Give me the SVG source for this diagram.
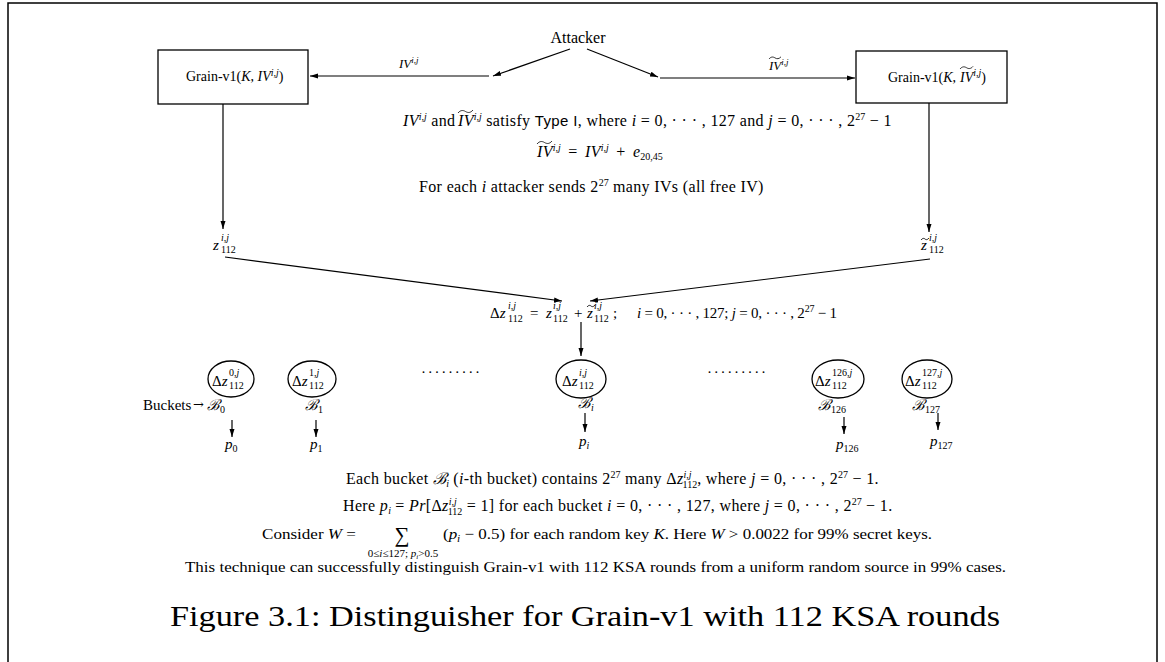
<svg xmlns="http://www.w3.org/2000/svg" width="1165" height="662" viewBox="0 0 1165 662">
<defs>
<style>
.t{font-family:"Liberation Serif","DejaVu Serif",serif;font-size:15px;fill:#000}
.b{font-size:16px;letter-spacing:0.35px}
.i{font-style:italic}
.sc{font-size:10px;letter-spacing:0}
.ss{font-size:9px}
.ln{stroke:#000;stroke-width:1.2;fill:none}
.tl{stroke:#000;stroke-width:0.8;fill:none}
.box{fill:#fff;stroke:#000;stroke-width:1.3}
.ell{fill:none;stroke:#000;stroke-width:1.3}
</style>
<marker id="ah" markerUnits="userSpaceOnUse" markerWidth="8" markerHeight="6" refX="8" refY="3" orient="auto">
<path d="M0,0.5 L8,3 L0,5.5 z" fill="#000"/>
</marker>
</defs>
<rect width="1165" height="662" fill="#fff"/>
<path d="M8,662 V3 H1157 V662" fill="none" stroke="#000" stroke-width="1.5"/>

<g id="connectors">
<path class="ln" d="M570,49 L493,76" marker-end="url(#ah)"/>
<path class="ln" d="M489,76 L310,76" marker-end="url(#ah)"/>
<path class="ln" d="M587,49 L658,77" marker-end="url(#ah)"/>
<path class="ln" d="M660,78 L855,78" marker-end="url(#ah)"/>
<path class="ln" d="M223,104 L223,229" marker-end="url(#ah)"/>
<path class="ln" d="M929,103 L929,232" marker-end="url(#ah)"/>
<path class="ln" d="M225,257 L562,301" marker-end="url(#ah)"/>
<path class="ln" d="M930,259 L590,301" marker-end="url(#ah)"/>
<path class="ln" d="M581,322 L581,356" marker-end="url(#ah)"/>
<path class="ln" d="M232,420 L232,437" marker-end="url(#ah)"/>
<path class="ln" d="M316,420 L316,437" marker-end="url(#ah)"/>
<path class="ln" d="M585,413 L585,432" marker-end="url(#ah)"/>
<path class="ln" d="M844,417 L844,434" marker-end="url(#ah)"/>
<path class="ln" d="M938,413 L938,430" marker-end="url(#ah)"/>
<text class="t i" x="399" y="68" style="font-size:13px">IV<tspan class="ss" dy="-5">i,j</tspan></text>
<text class="t i" x="769" y="70" style="font-size:13px">IV<tspan class="ss" dy="-5">i,j</tspan></text>
<path class="tl" d="M769,59 c2,-2.4 4,-2.4 6,-1.1 s4,1.1 6,-1.1"/>
</g>

<g id="attacker">
<text class="t" x="578" y="43" text-anchor="middle" style="font-size:16px">Attacker</text>
</g>

<g id="grain-left">
<rect class="box" x="158" y="50" width="150" height="54"/>
<text class="t" x="186" y="81" style="font-size:14px">Grain-v1(<tspan class="i">K</tspan>, <tspan class="i">IV</tspan><tspan class="i" dy="-5" style="font-size:10px">i,j</tspan><tspan dy="5">)</tspan></text>
</g>

<g id="grain-right">
<rect class="box" x="856" y="51" width="151" height="52"/>
<text class="t" x="888" y="82" style="font-size:14px">Grain-v1(<tspan class="i">K</tspan>, <tspan class="i" x="960">IV</tspan><tspan class="i" dy="-6" style="font-size:10px">i,j</tspan><tspan dy="6">)</tspan></text>
<path class="tl" d="M960,69 c2.2,-2.6 4.4,-2.6 6.5,-1.3 s4.3,1.3 6.5,-1.3"/>
</g>

<g id="conditions">
<text class="t b" x="403" y="126"><tspan class="i">IV</tspan><tspan class="sc i" dy="-6">i,j</tspan><tspan dy="6"> and </tspan><tspan class="i" x="458">IV</tspan><tspan class="sc i" dy="-6">i,j</tspan><tspan dy="6"> satisfy </tspan><tspan font-family="Liberation Sans" style="font-size:15px">Type I</tspan>, where <tspan class="i">i</tspan> = 0, · · · , 127 and <tspan class="i">j</tspan> = 0, · · · , 2<tspan class="sc" dy="-6">27</tspan><tspan dy="6"> − 1</tspan></text>
<path class="tl" d="M458,113 c2.5,-3 5,-3 7.5,-1.5 s5,1.5 7.5,-1.5"/>
<text class="t b" x="537" y="157"><tspan class="i">IV</tspan><tspan class="sc i" dy="-6">i,j</tspan><tspan dy="6" dx="3"> = </tspan><tspan class="i" dx="3">IV</tspan><tspan class="sc i" dy="-6">i,j</tspan><tspan dy="6" dx="3"> + </tspan><tspan class="i" dx="3">e</tspan><tspan class="sc" dy="3">20,45</tspan></text>
<path class="tl" d="M537,144 c2.5,-3 5,-3 7.5,-1.5 s5,1.5 7.5,-1.5"/>
<text class="t b" x="419" y="192">For each <tspan class="i">i</tspan> attacker sends 2<tspan class="sc" dy="-6">27</tspan><tspan dy="6"> many IVs (all free IV)</tspan></text>
</g>

<g id="z-left">
<text class="t i" x="213" y="250">z</text>
<text class="t sc i" x="221" y="241">i,j</text>
<text class="t sc" x="221" y="253">112</text>
</g>

<g id="z-right">
<text class="t i" x="921" y="250">z</text>
<path class="tl" d="M921,240 c1.5,-2 3,-2 4,-1 s2.5,1 4,-1"/>
<text class="t sc i" x="929" y="241">i,j</text>
<text class="t sc" x="929" y="253">112</text>
</g>

<g id="delta-eq">
<text class="t" x="490" y="318">Δ<tspan class="i">z</tspan></text>
<text class="t sc i" x="508" y="309">i,j</text>
<text class="t sc" x="508" y="322">112</text>
<text class="t" x="530" y="318">=</text>
<text class="t i" x="546" y="318">z</text>
<text class="t sc i" x="553" y="309">i,j</text>
<text class="t sc" x="553" y="322">112</text>
<text class="t" x="574" y="318">+</text>
<text class="t i" x="587" y="318">z</text>
<path class="tl" d="M587,307 c1.5,-2 3,-2 4,-1 s2.5,1 4,-1"/>
<text class="t sc i" x="594" y="309">i,j</text>
<text class="t sc" x="594" y="322">112</text>
<text class="t" x="613" y="318">;</text>
<text class="t" x="637" y="318" textLength="200" lengthAdjust="spacing"><tspan class="i">i</tspan> = 0, · · · , 127; <tspan class="i">j</tspan> = 0, · · · , 2<tspan class="sc" dy="-6">27</tspan><tspan dy="6"> − 1</tspan></text>
</g>

<g id="bucket-0">
<ellipse class="ell" cx="231" cy="379" rx="23" ry="18"/>
<text class="t" x="212" y="386">Δ<tspan class="i">z</tspan></text>
<text class="t sc" x="229" y="376">0<tspan class="i">,j</tspan></text>
<text class="t sc" x="229" y="389">112</text>
<text class="t" x="143" y="410">Buckets</text>
<text class="t" x="193" y="409" style="font-size:13px;font-family:'DejaVu Serif',serif">→</text>
<text class="t i" x="207" y="410">ℬ<tspan class="sc" font-style="normal" dy="3">0</tspan></text>
<text class="t i" x="225" y="449">p<tspan class="sc" font-style="normal" dy="3">0</tspan></text>
</g>

<g id="bucket-1">
<ellipse class="ell" cx="312" cy="379" rx="24" ry="18"/>
<text class="t" x="292" y="386">Δ<tspan class="i">z</tspan></text>
<text class="t sc" x="309" y="376">1<tspan class="i">,j</tspan></text>
<text class="t sc" x="309" y="389">112</text>
<text class="t i" x="305" y="410">ℬ<tspan class="sc" font-style="normal" dy="3">1</tspan></text>
<text class="t i" x="310" y="449">p<tspan class="sc" font-style="normal" dy="3">1</tspan></text>
</g>

<g id="dots-left">
<text class="t" x="421" y="377" textLength="59" lengthAdjust="spacing">· · · · · · · · ·</text>
</g>

<g id="bucket-i">
<ellipse class="ell" cx="581" cy="379" rx="25" ry="19"/>
<text class="t" x="562" y="386">Δ<tspan class="i">z</tspan></text>
<text class="t sc i" x="579" y="376">i,j</text>
<text class="t sc" x="579" y="389">112</text>
<text class="t i" x="578" y="408">ℬ<tspan class="sc" dy="3">i</tspan></text>
<text class="t i" x="579" y="446">p<tspan class="sc" dy="3">i</tspan></text>
</g>

<g id="dots-right">
<text class="t" x="707" y="377" textLength="59" lengthAdjust="spacing">· · · · · · · · ·</text>
</g>

<g id="bucket-126">
<ellipse class="ell" cx="838" cy="379" rx="26" ry="19"/>
<text class="t" x="815" y="386">Δ<tspan class="i">z</tspan></text>
<text class="t sc" x="832" y="376">126<tspan class="i">,j</tspan></text>
<text class="t sc" x="832" y="389">112</text>
<text class="t i" x="818" y="410">ℬ<tspan class="sc" font-style="normal" dy="3">126</tspan></text>
<text class="t i" x="836" y="449">p<tspan class="sc" font-style="normal" dy="3">126</tspan></text>
</g>

<g id="bucket-127">
<ellipse class="ell" cx="927" cy="379" rx="25" ry="19"/>
<text class="t" x="905" y="386">Δ<tspan class="i">z</tspan></text>
<text class="t sc" x="922" y="376">127<tspan class="i">,j</tspan></text>
<text class="t sc" x="922" y="389">112</text>
<text class="t i" x="912" y="410">ℬ<tspan class="sc" font-style="normal" dy="3">127</tspan></text>
<text class="t i" x="930" y="446">p<tspan class="sc" font-style="normal" dy="3">127</tspan></text>
</g>

<g id="notes">
<text class="t b" x="346" y="484">Each bucket <tspan class="i">ℬ</tspan><tspan class="sc i" dy="3">i</tspan><tspan dy="-3"> (</tspan><tspan class="i">i</tspan>-th bucket) contains 2<tspan class="sc" dy="-6">27</tspan><tspan dy="6"> many Δ</tspan><tspan class="i">z</tspan><tspan class="sc i" dy="-6">i,j</tspan><tspan class="sc" dx="-9" dy="10">112</tspan><tspan dy="-4">, where </tspan><tspan class="i">j</tspan> = 0, · · · , 2<tspan class="sc" dy="-6">27</tspan><tspan dy="6"> − 1.</tspan></text>
<text class="t b" x="343" y="511">Here <tspan class="i">p</tspan><tspan class="sc i" dy="3">i</tspan><tspan dy="-3"> = </tspan><tspan class="i">Pr</tspan>[Δ<tspan class="i">z</tspan><tspan class="sc i" dy="-6">i,j</tspan><tspan class="sc" dx="-9" dy="10">112</tspan><tspan dy="-4"> = 1] for each bucket </tspan><tspan class="i">i</tspan> = 0, · · · , 127, where <tspan class="i">j</tspan> = 0, · · · , 2<tspan class="sc" dy="-6">27</tspan><tspan dy="6"> − 1.</tspan></text>
<text class="t" x="262" y="539" textLength="94" lengthAdjust="spacingAndGlyphs">Consider <tspan class="i">W</tspan> =</text>
<text class="t" x="402" y="542" text-anchor="middle" style="font-size:21px">∑</text>
<text class="t" x="403" y="557" text-anchor="middle" style="font-size:11px">0≤<tspan class="i">i</tspan>≤127; <tspan class="i">p</tspan><tspan class="i" dy="2" style="font-size:7px">i</tspan><tspan dy="-2">&gt;0.5</tspan></text>
<text class="t" x="443" y="539" textLength="489" lengthAdjust="spacingAndGlyphs">(<tspan class="i">p</tspan><tspan class="sc i" dy="3">i</tspan><tspan dy="-3"> − 0.5) for each random key </tspan><tspan class="i">K</tspan>. Here <tspan class="i">W</tspan> &gt; 0.0022 for 99% secret keys.</text>
<text class="t" x="185" y="572" textLength="821" lengthAdjust="spacingAndGlyphs" style="font-size:14px">This technique can successfully distinguish Grain-v1 with 112 KSA rounds from a uniform random source in 99% cases.</text>
</g>

<g id="caption">
<text class="t" x="585" y="626" text-anchor="middle" textLength="830" lengthAdjust="spacingAndGlyphs" style="font-size:30px">Figure 3.1: Distinguisher for Grain-v1 with 112 KSA rounds</text>
</g>
</svg>
